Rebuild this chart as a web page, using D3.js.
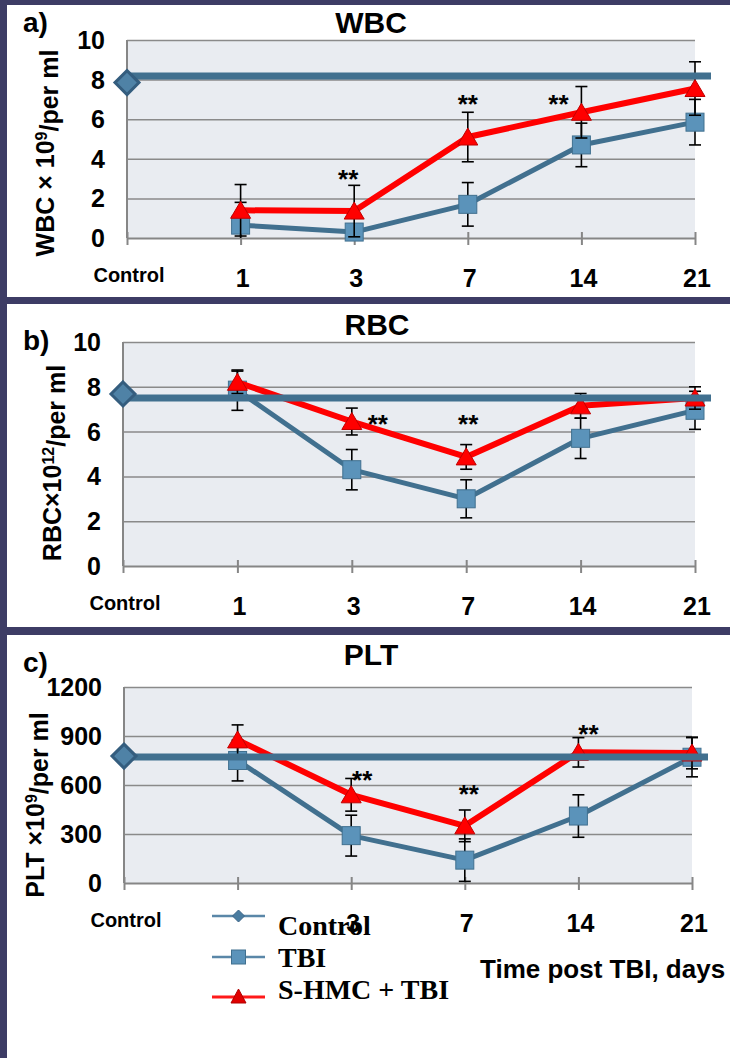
<!DOCTYPE html>
<html>
<head>
  <script src="https://d3js.org/d3.v7.min.js"></script>
  <style>
    body { margin: 0; background: #ffffff; }
    text { font-family: "Liberation Sans", Arial, sans-serif; font-weight: bold; fill: #000; }
    .serif { font-family: "Liberation Serif", "Times New Roman", serif; }
  </style>
</head>
<body>
<svg id="svg" width="730" height="1058"></svg>
<script>
// ---------------- data ----------------
const categories = ["Control", "1", "3", "7", "14", "21"];
const days = ["1", "3", "7", "14", "21"];
const seriesNames = ["Control", "TBI", "S-HMC + TBI"];

// WBC (x10^9 / ml)
const wbcTicks = [0, 2, 4, 6, 8, 10];
const wbcControl = 7.85;
const wbcControlLine = 8.18;
const wbcTbi = [0.65, 0.3, 1.7, 4.7, 5.85];
const wbcTbiErr = [1.15, 0.3, 1.1, 1.1, 1.15];
const wbcHmc = [1.4, 1.36, 5.1, 6.35, 7.55];
const wbcHmcErr = [1.3, 1.3, 1.25, 1.3, 1.35];
const wbcStarDays = ["3", "7", "14"];
const wbcStarValues = [3.3, 7.05, 7.05];

// RBC (x10^12 / ml)
const rbcTicks = [0, 2, 4, 6, 8, 10];
const rbcControl = 7.68;
const rbcControlLine = 7.5;
const rbcTbi = [7.85, 4.3, 3.0, 5.7, 6.95];
const rbcTbiErr = [0.9, 0.9, 0.85, 0.9, 0.85];
const rbcHmc = [8.2, 6.45, 4.87, 7.15, 7.5];
const rbcHmcErr = [0.5, 0.6, 0.55, 0.55, 0.5];
const rbcStarDays = ["3", "7"];
const rbcStarValues = [6.6, 6.6];

// PLT (x10^9 / ml)
const pltTicks = [0, 300, 600, 900, 1200];
const pltControl = 777;
const pltControlLine = 771;
const pltTbi = [750, 290, 140, 410, 770];
const pltTbiErr = [125, 125, 130, 130, 120];
const pltHmc = [876, 540, 350, 800, 796];
const pltHmcErr = [92, 100, 97, 90, 97];
const pltStarDays = ["3", "7", "14"];
const pltStarValues = [670, 582, 949];

// ---------------- styles ----------------
const borderColor = "#3d3c65";
const blueLine = "#41708f";
const squareFill = "#5b93ba";
const red = "#ff0000";

const svg = d3.select("#svg");

// dark frame + white panels
svg.append("rect").attr("width", 730).attr("height", 1058).attr("fill", borderColor);
[[5, 297], [304, 627], [635, 1058]].forEach(([y0, y1]) => {
  svg.append("rect").attr("x", 7).attr("y", y0).attr("width", 723).attr("height", y1 - y0).attr("fill", "#fff");
});

const panels = [
  { letter: "a)", letterY: 32, title: "WBC", titleX: 371, titleY: 33,
    label: ["WBC × 10", "9", "/per ml"], labelX: 54, labelY: 153,
    left: 127, right: 695, top: 40, bottom: 238, ticks: wbcTicks,
    control: wbcControl, controlLine: wbcControlLine,
    tbi: wbcTbi, tbiErr: wbcTbiErr, hmc: wbcHmc, hmcErr: wbcHmcErr,
    starDays: wbcStarDays, starValues: wbcStarValues, starDx: [-6, 0, -23] },
  { letter: "b)", letterY: 350, title: "RBC", titleX: 377, titleY: 335,
    label: ["RBC×10", "12", "/per ml"], labelX: 61, labelY: 463,
    left: 123, right: 695, top: 342, bottom: 566, ticks: rbcTicks,
    control: rbcControl, controlLine: rbcControlLine,
    tbi: rbcTbi, tbiErr: rbcTbiErr, hmc: rbcHmc, hmcErr: rbcHmcErr,
    starDays: rbcStarDays, starValues: rbcStarValues, starDx: [26, 2] },
  { letter: "c)", letterY: 672, title: "PLT", titleX: 371, titleY: 665,
    label: ["PLT ×10", "9", "/per ml"], labelX: 44, labelY: 805,
    left: 124, right: 692, top: 687, bottom: 883, ticks: pltTicks,
    control: pltControl, controlLine: pltControlLine,
    tbi: pltTbi, tbiErr: pltTbiErr, hmc: pltHmc, hmcErr: pltHmcErr,
    starDays: pltStarDays, starValues: pltStarValues, starDx: [11, 4, 10] }
];

const trianglePath = "M0,-9L10,8L-10,8Z";

function drawPanel(p) {
  const g = svg.append("g");
  const x = d3.scalePoint().domain(categories).range([p.left, p.right]);
  const y = d3.scaleLinear().domain([0, d3.max(p.ticks)]).range([p.bottom, p.top]);

  // plot background
  g.append("rect").attr("x", p.left).attr("y", p.top)
    .attr("width", p.right - p.left).attr("height", p.bottom - p.top)
    .attr("fill", "#e9ecf1");

  // gridlines
  g.append("g").attr("transform", `translate(${p.left},0)`)
    .call(d3.axisLeft(y).tickValues(p.ticks.slice(1)).tickSize(-(p.right - p.left)).tickFormat(""))
    .call(s => s.select(".domain").remove())
    .selectAll("line").attr("stroke", "#8a8a8a").attr("stroke-width", 1.5);

  // y tick labels
  g.selectAll("text.ytick").data(p.ticks).join("text")
    .attr("class", "ytick")
    .attr("x", p.left - 22).attr("y", d => y(d)).attr("dy", "0.36em")
    .attr("text-anchor", "end").attr("font-size", 25)
    .text(d => d);

  // x axis (ticks cross the axis line)
  const xAxis = g.append("g").attr("transform", `translate(0,${p.bottom})`)
    .call(d3.axisBottom(x).tickSizeInner(7).tickSizeOuter(0).tickFormat(""));
  xAxis.select(".domain").attr("stroke", "#868686").attr("stroke-width", 2);
  xAxis.selectAll(".tick line").attr("y1", -6).attr("stroke", "#868686").attr("stroke-width", 2);

  // left axis line
  g.append("line").attr("x1", p.left).attr("x2", p.left)
    .attr("y1", p.top).attr("y2", p.bottom)
    .attr("stroke", "#868686").attr("stroke-width", 2);

  // x tick labels
  g.selectAll("text.xtick").data(categories).join("text")
    .attr("class", "xtick")
    .attr("x", d => x(d) + 2)
    .attr("y", d => d === "Control" ? p.bottom + 44 : p.bottom + 49)
    .attr("text-anchor", "middle")
    .attr("font-size", d => d === "Control" ? 20 : 25)
    .text(d => d);

  const line = d3.line().x(d => x(d.day)).y(d => y(d.v));

  function drawSeries(values, errs, color, width, marker) {
    const pts = days.map((d, i) => ({ day: d, v: values[i], e: errs[i] }));
    g.append("path").datum(pts).attr("d", line)
      .attr("fill", "none").attr("stroke", color).attr("stroke-width", width)
      .attr("stroke-linejoin", "round");
    const eb = g.append("g").attr("stroke", "#000").attr("stroke-width", 1.6);
    pts.forEach(d => {
      const cx = x(d.day);
      const yTop = y(Math.min(d.v + d.e, d3.max(p.ticks)));
      const yBot = y(Math.max(d.v - d.e, 0));
      eb.append("line").attr("x1", cx).attr("x2", cx).attr("y1", yTop).attr("y2", yBot);
      eb.append("line").attr("x1", cx - 6).attr("x2", cx + 6).attr("y1", yTop).attr("y2", yTop);
      if (d.v - d.e > 0)
        eb.append("line").attr("x1", cx - 6).attr("x2", cx + 6).attr("y1", yBot).attr("y2", yBot);
    });
    if (marker === "square") {
      g.selectAll(null).data(pts).join("rect")
        .attr("x", d => x(d.day) - 9).attr("y", d => y(d.v) - 9)
        .attr("width", 18).attr("height", 18)
        .attr("fill", squareFill).attr("stroke", blueLine).attr("stroke-width", 1);
    } else {
      g.selectAll(null).data(pts).join("path")
        .attr("d", trianglePath)
        .attr("transform", d => `translate(${x(d.day)},${y(d.v)})`)
        .attr("fill", red).attr("stroke", "#c00000").attr("stroke-width", 1);
    }
  }

  drawSeries(p.tbi, p.tbiErr, blueLine, 5, "square");
  drawSeries(p.hmc, p.hmcErr, red, 6, "triangle");

  // control reference line + diamond
  g.append("line")
    .attr("x1", x("Control")).attr("x2", p.right + 16)
    .attr("y1", y(p.controlLine)).attr("y2", y(p.controlLine))
    .attr("stroke", blueLine).attr("stroke-width", 7);
  g.append("path")
    .attr("d", "M0,-12L12,0L0,12L-12,0Z")
    .attr("transform", `translate(${x("Control")},${y(p.control)})`)
    .attr("fill", "#4f82a6").attr("stroke", "#345d7e").attr("stroke-width", 3);

  // significance stars
  g.selectAll("text.star").data(p.starDays).join("text")
    .attr("class", "star")
    .attr("x", (d, i) => x(d) + p.starDx[i])
    .attr("y", (d, i) => y(p.starValues[i]) + 15)
    .attr("text-anchor", "middle").attr("font-size", 26)
    .text("**");

  // title, panel letter, y label
  g.append("text").attr("x", p.titleX).attr("y", p.titleY)
    .attr("text-anchor", "middle").attr("font-size", 30).text(p.title);
  g.append("text").attr("x", 23).attr("y", p.letterY)
    .attr("font-size", 28).text(p.letter);
  const yl = g.append("text")
    .attr("transform", `translate(${p.labelX},${p.labelY}) rotate(-90)`)
    .attr("text-anchor", "middle").attr("font-size", 25);
  yl.append("tspan").text(p.label[0]);
  yl.append("tspan").attr("dy", "-0.45em").attr("font-size", 16).text(p.label[1]);
  yl.append("tspan").attr("dy", "0.45em").text(p.label[2]);
}

panels.forEach(drawPanel);

// x axis title
svg.append("text").attr("x", 480).attr("y", 978)
  .attr("font-size", 26).text("Time post TBI, days");

// legend (its opaque key area hides the "1" tick label below panel c)
const legendY = [916, 957, 997];
const legendTextY = [935, 967, 999];
const legend = svg.append("g");
legend.append("rect").attr("x", 204).attr("y", 898).attr("width", 70).attr("height", 112).attr("fill", "#fff");
seriesNames.forEach((name, i) => {
  const ly = legendY[i];
  const color = i === 2 ? "#ff1a1a" : "#5a87a8";
  legend.append("line").attr("x1", 212).attr("x2", 265).attr("y1", ly).attr("y2", ly)
    .attr("stroke", color).attr("stroke-width", i === 2 ? 3 : 2.5);
  if (i === 0) {
    legend.append("path").attr("d", "M0,-6L6,0L0,6L-6,0Z")
      .attr("transform", `translate(238.5,${ly})`)
      .attr("fill", "#4a7ca0").attr("stroke", "#3c6688").attr("stroke-width", 1);
  } else if (i === 1) {
    legend.append("rect").attr("x", 231.5).attr("y", ly - 7).attr("width", 14).attr("height", 14)
      .attr("fill", squareFill).attr("stroke", blueLine).attr("stroke-width", 1);
  } else {
    legend.append("path").attr("d", "M0,-8L7.5,6L-7.5,6Z")
      .attr("transform", `translate(238.5,${ly})`)
      .attr("fill", "#e00000").attr("stroke", "#b00000").attr("stroke-width", 1);
  }
  legend.append("text").attr("class", "serif")
    .attr("x", 278).attr("y", legendTextY[i])
    .attr("font-size", 28).text(name);
});
</script>
</body>
</html>
